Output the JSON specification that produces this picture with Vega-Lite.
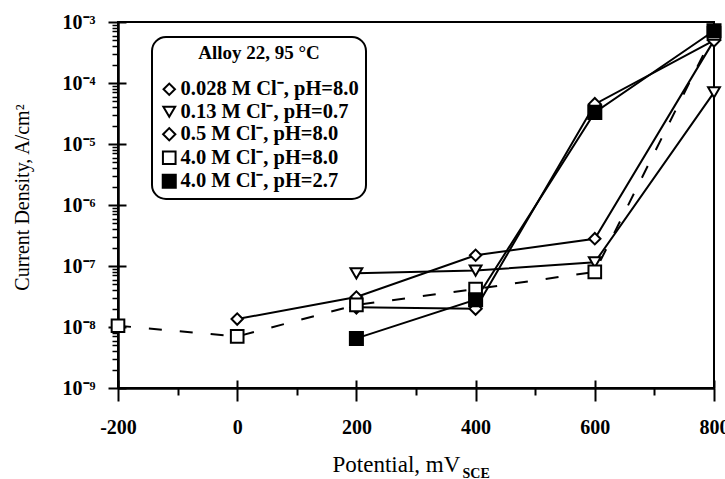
{
  "$schema": "https://vega.github.io/schema/vega-lite/v6.json",
  "width": 596,
  "height": 366,
  "autosize": {"type": "none"},
  "padding": {"left": 118, "top": 22, "right": 11, "bottom": 91},
  "background": "white",
  "config": {
    "view": {"stroke": "black", "strokeWidth": 2},
    "axis": {
      "domainColor": "black",
      "tickColor": "black",
      "labelColor": "black",
      "titleColor": "black",
      "labelFont": "Liberation Serif",
      "titleFont": "Liberation Serif",
      "grid": false
    },
    "legend": {
      "orient": "none",
      "legendX": 34,
      "legendY": 15,
      "padding": 7,
      "cornerRadius": 14,
      "strokeColor": "black",
      "strokeWidth": 2,
      "fillColor": "white",
      "titleFont": "Liberation Serif",
      "titleFontSize": 19,
      "titleFontWeight": "bold",
      "titleColor": "black",
      "titleAnchor": "middle",
      "titleAlign": "center",
      "titlePadding": 16,
      "labelFont": "Liberation Serif",
      "labelFontSize": 20.5,
      "labelFontWeight": "bold",
      "labelColor": "black",
      "labelOffset": 1,
      "labelLimit": 400,
      "rowPadding": 1.5,
      "symbolStrokeColor": "black",
      "symbolStrokeWidth": 2
    }
  },
  "data": {
    "values": [
      {"series": "0.028 M Cl⁻, pH=8.0", "potential": 0, "current": 1.35e-8},
      {"series": "0.028 M Cl⁻, pH=8.0", "potential": 200, "current": 3.1e-8},
      {"series": "0.028 M Cl⁻, pH=8.0", "potential": 400, "current": 1.5e-7},
      {"series": "0.028 M Cl⁻, pH=8.0", "potential": 600, "current": 2.8e-7},
      {"series": "0.028 M Cl⁻, pH=8.0", "potential": 800, "current": 5e-4},
      {"series": "0.13 M Cl⁻, pH=0.7", "potential": 200, "current": 7.6e-8},
      {"series": "0.13 M Cl⁻, pH=0.7", "potential": 400, "current": 8.4e-8},
      {"series": "0.13 M Cl⁻, pH=0.7", "potential": 600, "current": 1.15e-7},
      {"series": "0.13 M Cl⁻, pH=0.7", "potential": 800, "current": 7e-5},
      {"series": "0.5 M Cl⁻, pH=8.0", "potential": 200, "current": 2.1e-8},
      {"series": "0.5 M Cl⁻, pH=8.0", "potential": 400, "current": 2.0e-8},
      {"series": "0.5 M Cl⁻, pH=8.0", "potential": 600, "current": 4.5e-5},
      {"series": "0.5 M Cl⁻, pH=8.0", "potential": 800, "current": 5e-4},
      {"series": "4.0 M Cl⁻, pH=8.0", "potential": -200, "current": 1.05e-8},
      {"series": "4.0 M Cl⁻, pH=8.0", "potential": 0, "current": 7e-9},
      {"series": "4.0 M Cl⁻, pH=8.0", "potential": 200, "current": 2.3e-8},
      {"series": "4.0 M Cl⁻, pH=8.0", "potential": 400, "current": 4.2e-8},
      {"series": "4.0 M Cl⁻, pH=8.0", "potential": 600, "current": 8e-8},
      {"series": "4.0 M Cl⁻, pH=8.0", "potential": 800, "current": 6.5e-4},
      {"series": "4.0 M Cl⁻, pH=2.7", "potential": 200, "current": 6.5e-9},
      {"series": "4.0 M Cl⁻, pH=2.7", "potential": 400, "current": 2.8e-8},
      {"series": "4.0 M Cl⁻, pH=2.7", "potential": 600, "current": 3.3e-5},
      {"series": "4.0 M Cl⁻, pH=2.7", "potential": 800, "current": 7.2e-4}
    ]
  },
  "layer": [
    {
      "transform": [
        {"filter": {"field": "series", "oneOf": ["0.028 M Cl⁻, pH=8.0", "0.13 M Cl⁻, pH=0.7", "0.5 M Cl⁻, pH=8.0", "4.0 M Cl⁻, pH=2.7"]}}
      ],
      "mark": {"type": "line", "color": "black", "strokeWidth": 2},
      "encoding": {
        "x": {
          "field": "potential", "type": "quantitative",
          "scale": {"domain": [-200, 800], "nice": false, "zero": false},
          "axis": {
            "orient": "bottom",
            "values": [-200, 0, 200, 400, 600, 800],
            "labelExpr": "datum.value < 0 ? '-' + abs(datum.value) : '' + datum.value",
            "tickSize": 13, "tickWidth": 2, "domainWidth": 2.5,
            "labelFontSize": 20, "labelFontWeight": "bold", "labelPadding": 16,
            "labelFlush": false, "labelOverlap": false,
            "title": "Potential, mV", "titleFontSize": 23, "titleFontWeight": "normal",
            "titleAlign": "left", "titleBaseline": "alphabetic", "titleX": 214, "titleY": 83
          }
        },
        "y": {
          "field": "current", "type": "quantitative",
          "scale": {"type": "log", "domain": [1e-9, 1e-3], "nice": false},
          "axis": {
            "orient": "left",
            "values": [1e-9, 1e-8, 1e-7, 1e-6, 1e-5, 1e-4, 1e-3],
            "labelExpr": "'10⁻' + ['⁰','¹','²','³','⁴','⁵','⁶','⁷','⁸','⁹'][-round(log(datum.value) / LN10)]",
            "tickSize": 10, "tickWidth": 2, "domainWidth": 2.5,
            "labelFontSize": 20, "labelFontWeight": "bold", "labelPadding": 13,
            "title": "Current Density, A/cm²", "titleFontSize": 20, "titleFontWeight": "normal",
            "titleAlign": "center", "titleBaseline": "middle", "titleX": -96, "titleY": 175
          }
        },
        "detail": {"field": "series"}
      }
    },
    {
      "transform": [
        {"filter": {"field": "series", "equal": "4.0 M Cl⁻, pH=8.0"}}
      ],
      "mark": {"type": "line", "color": "black", "strokeWidth": 2, "strokeDash": [13, 18]},
      "encoding": {
        "x": {
          "field": "potential", "type": "quantitative",
          "scale": {"domain": [-200, 800], "nice": false, "zero": false},
          "axis": {
            "orient": "bottom",
            "values": [-200, 0, 200, 400, 600, 800],
            "tickSize": -8, "tickWidth": 2, "labels": false, "domain": false,
            "title": "SCE", "titleFontSize": 14, "titleFontWeight": "bold",
            "titleAlign": "left", "titleBaseline": "alphabetic", "titleX": 344, "titleY": 89
          }
        },
        "y": {
          "field": "current", "type": "quantitative",
          "scale": {"type": "log", "domain": [1e-9, 1e-3], "nice": false},
          "axis": {
            "orient": "left",
            "values": [1e-9, 1e-8, 1e-7, 1e-6, 1e-5, 1e-4, 1e-3],
            "tickSize": -8, "tickWidth": 2, "labels": false, "domain": false,
            "title": null
          }
        }
      }
    },
    {
      "mark": {"type": "point", "filled": true, "strokeWidth": 2, "opacity": 1},
      "encoding": {
        "x": {
          "field": "potential", "type": "quantitative",
          "scale": {"domain": [-200, 800], "nice": false, "zero": false},
          "axis": {
            "orient": "bottom",
            "values": [-100, 100, 300, 500, 700],
            "tickSize": 7, "tickWidth": 2, "labels": false, "domain": false,
            "title": null
          }
        },
        "y": {
          "field": "current", "type": "quantitative",
          "scale": {"type": "log", "domain": [1e-9, 1e-3], "nice": false},
          "axis": {
            "orient": "left",
            "values": [2e-9, 3e-9, 4e-9, 5e-9, 6e-9, 7e-9, 8e-9, 9e-9,
                       2e-8, 3e-8, 4e-8, 5e-8, 6e-8, 7e-8, 8e-8, 9e-8,
                       2e-7, 3e-7, 4e-7, 5e-7, 6e-7, 7e-7, 8e-7, 9e-7,
                       2e-6, 3e-6, 4e-6, 5e-6, 6e-6, 7e-6, 8e-6, 9e-6,
                       2e-5, 3e-5, 4e-5, 5e-5, 6e-5, 7e-5, 8e-5, 9e-5,
                       2e-4, 3e-4, 4e-4, 5e-4, 6e-4, 7e-4, 8e-4, 9e-4],
            "tickSize": 6, "tickWidth": 1.5, "labels": false, "domain": false,
            "title": null
          }
        },
        "shape": {
          "field": "series", "type": "nominal",
          "scale": {
            "domain": ["0.028 M Cl⁻, pH=8.0", "0.13 M Cl⁻, pH=0.7", "0.5 M Cl⁻, pH=8.0", "4.0 M Cl⁻, pH=8.0", "4.0 M Cl⁻, pH=2.7"],
            "range": ["diamond", "triangle-down", "diamond", "square", "square"]
          },
          "legend": {"title": "Alloy 22,  95 °C"}
        },
        "fill": {
          "field": "series", "type": "nominal",
          "scale": {
            "domain": ["0.028 M Cl⁻, pH=8.0", "0.13 M Cl⁻, pH=0.7", "0.5 M Cl⁻, pH=8.0", "4.0 M Cl⁻, pH=8.0", "4.0 M Cl⁻, pH=2.7"],
            "range": ["white", "white", "white", "white", "black"]
          },
          "legend": {"title": "Alloy 22,  95 °C"}
        },
        "stroke": {
          "field": "series", "type": "nominal",
          "scale": {
            "domain": ["0.028 M Cl⁻, pH=8.0", "0.13 M Cl⁻, pH=0.7", "0.5 M Cl⁻, pH=8.0", "4.0 M Cl⁻, pH=8.0", "4.0 M Cl⁻, pH=2.7"],
            "range": ["black", "black", "black", "black", "black"]
          },
          "legend": {"title": "Alloy 22,  95 °C"}
        },
        "size": {
          "field": "series", "type": "nominal",
          "scale": {
            "domain": ["0.028 M Cl⁻, pH=8.0", "0.13 M Cl⁻, pH=0.7", "0.5 M Cl⁻, pH=8.0", "4.0 M Cl⁻, pH=8.0", "4.0 M Cl⁻, pH=2.7"],
            "range": [130, 170, 130, 170, 170]
          },
          "legend": {"title": "Alloy 22,  95 °C"}
        }
      }
    }
  ],
  "resolve": {"axis": {"x": "independent", "y": "independent"}}
}
